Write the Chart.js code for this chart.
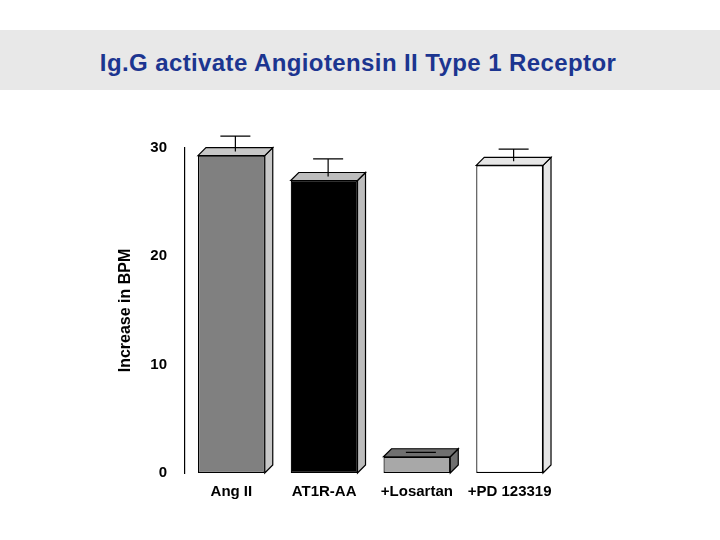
<!DOCTYPE html>
<html><head><meta charset="utf-8">
<script src="https://cdn.jsdelivr.net/npm/chart.js@4"></script>
<style>
body{margin:0;background:#fff;width:720px;height:540px;position:relative;overflow:hidden;font-family:"Liberation Sans",Arial,sans-serif}
#band{position:absolute;left:0;top:30px;width:720px;height:60px;background:#e8e8e8}
#t{position:absolute;left:0;top:49px;width:716px;text-align:center;font-size:24px;font-weight:bold;color:#1c3590;letter-spacing:0.4px}
canvas{position:absolute;left:0;top:0}
</style></head><body>
<div id="band"></div><div id="t">Ig.G activate Angiotensin II Type 1 Receptor</div>
<canvas id="c" width="720" height="540"></canvas>
<script>
const categories=["Ang II","AT1R-AA","+Losartan","+PD 123319"];
const values=[29.3,27.0,1.5,28.4];
const errors=[1.8,2.0,0.4,1.5];
const yTicks=[0,10,20,30];
const fills=["#808080","#000000","#a8a8a8","#ffffff"];
const sides=["#c8c8c8","#bdbdbd","#707070","#e6e6e6"];
const D=8;
const deco={id:'deco',afterDatasetsDraw(ch){
 const c=ch.ctx,y=ch.scales.y,meta=ch.getDatasetMeta(0);
 c.save();c.strokeStyle='#000';c.lineWidth=1.2;
 meta.data.forEach((b,i)=>{
  const l=b.x-b.width/2,r=b.x+b.width/2,t=b.y,bt=b.base;
  c.fillStyle=sides[i];
  c.beginPath();c.moveTo(r,t);c.lineTo(r+D,t-D);c.lineTo(r+D,bt-D);c.lineTo(r,bt);c.closePath();c.fill();c.stroke();
  c.beginPath();c.moveTo(l,t);c.lineTo(l+D,t-D);c.lineTo(r+D,t-D);c.lineTo(r,t);c.closePath();c.fill();c.stroke();
  const ye=y.getPixelForValue(values[i]+errors[i]);
  const xc=b.x+D/2;
  c.beginPath();c.moveTo(xc,t-D/2);c.lineTo(xc,ye);c.moveTo(xc-15,ye);c.lineTo(xc+15,ye);c.stroke();
 });
 c.restore();}};
new Chart(document.getElementById('c'),{type:'bar',
data:{labels:categories,datasets:[{data:values,backgroundColor:fills,borderColor:'#000',borderWidth:1.2,borderSkipped:false,barPercentage:0.72,categoryPercentage:1}]},
options:{responsive:false,animation:false,
layout:{padding:{left:112,right:164,top:148,bottom:27}},
plugins:{legend:{display:false},tooltip:{enabled:false}},
scales:{
 x:{grid:{display:false,drawTicks:false},border:{display:false},
   ticks:{color:'#000',autoSkip:false,maxRotation:0,minRotation:0,font:{size:15,weight:'bold',family:'Liberation Sans'},padding:10},afterFit(s){s.height=40}},
 y:{min:0,max:30,afterBuildTicks(s){s.ticks=[0,5,10,15,20,25,30].map(v=>({value:v}))},
   grid:{display:false,drawOnChartArea:false,tickLength:4,tickColor:'#000'},border:{display:true,color:'#000',width:1.2},
   ticks:{color:'#000',font:{size:15,weight:'bold',family:'Liberation Sans'},padding:14,callback:v=>yTicks.includes(v)?String(v):''},
   title:{display:true,text:'Increase in BPM',color:'#000',font:{size:16,weight:'bold',family:'Liberation Sans'}},
   afterFit(s){s.width=73}}
}},plugins:[deco]});
</script></body></html>
